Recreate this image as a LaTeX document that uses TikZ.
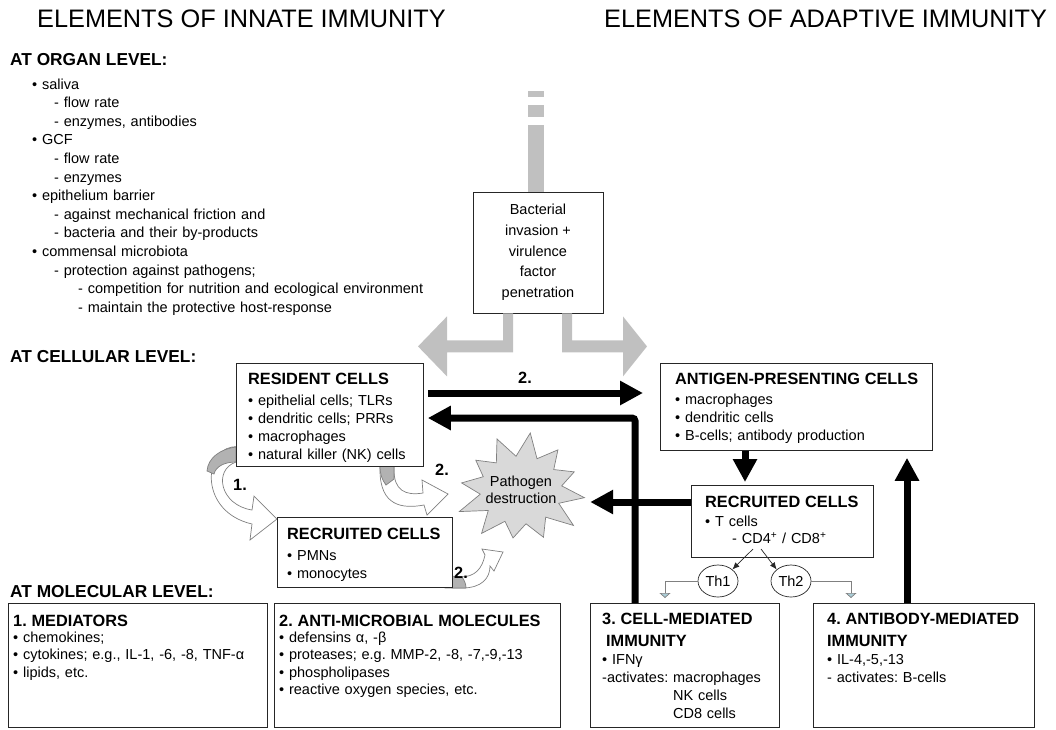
\documentclass[tikz,border=0pt]{standalone}
\usepackage{fontspec}
\setmainfont{Liberation Sans}
\usepackage{tikz}
\usetikzlibrary{arrows.meta,shapes.geometric}

\definecolor{arrgrey}{RGB}{192,192,192}
\definecolor{rimgrey}{RGB}{128,128,128}
\definecolor{tipblue}{RGB}{170,205,215}

\newcommand{\bt}[1]{{\bfseries\fontsize{16.3}{18}\selectfont #1}}

\begin{document}
\frenchspacing
\begin{tikzpicture}[x=1pt,y=-1pt,
                    box/.style={draw=black!85,line width=0.8pt,fill=white,
                                anchor=north west,inner sep=0pt},
                    txt/.style={anchor=base west,inner sep=0pt,align=left,
                                text width=#1,font=\fontsize{14.5}{18}\selectfont},
                    level/.style={anchor=base west,inner sep=0pt,
                                  font=\bfseries\fontsize{17.3}{20}\selectfont},
                    head/.style={anchor=base west,inner sep=0pt,
                                 font=\fontsize{25.3}{28}\selectfont},
                    num/.style={inner sep=0pt,font=\bfseries\fontsize{16.3}{18}\selectfont},
                    fat/.style={line width=7pt,-{Triangle[length=23pt,width=23pt]}},
                    ribbon/.style={fill=white,draw=rimgrey,line width=0.7pt},
                    twist/.style={fill=black!30,draw=rimgrey,line width=0.7pt},
                    thnode/.style={ellipse,draw=black!85,line width=0.7pt,
                                   minimum width=40pt,minimum height=32pt,inner sep=0pt,
                                   font=\fontsize{14.5}{18}\selectfont},
                    tharrow/.style={draw=black!85,line width=0.7pt,
                                    -{Latex[length=7pt,width=6pt]}},
                    thline/.style={draw=rimgrey,line width=0.7pt,
                                   -{Triangle[length=5pt,width=11pt,fill=tipblue]}}]

\useasboundingbox (0,0) rectangle (1056,729);

\node[head] (inn) at (37,27) {ELEMENTS OF INNATE IMMUNITY};
\node[head] (ada) at (604,27) {ELEMENTS OF ADAPTIVE IMMUNITY};

\node[level] (org) at (10,65) {AT ORGAN LEVEL:};
\node[level] (cel) at (10,362) {AT CELLULAR LEVEL:};
\node[level] (mol) at (10,597) {AT MOLECULAR LEVEL:};

\node[txt=440pt,font=\fontsize{14.5}{18.6}\selectfont] (orglist) at (32,89)
     {• saliva\\
      \hspace*{22pt}- flow rate\\
      \hspace*{22pt}- enzymes, antibodies\\
      • GCF\\
      \hspace*{22pt}- flow rate\\
      \hspace*{22pt}- enzymes\\
      • epithelium barrier\\
      \hspace*{22pt}- against mechanical friction and\\
      \hspace*{22pt}- bacteria and their by-products\\
      • commensal microbiota\\
      \hspace*{22pt}- protection against pathogens;\\
      \hspace*{46pt}- competition for nutrition and ecological environment\\
      \hspace*{46pt}- maintain the protective host-response};

% invading bacteria and the two grey routes
\foreach \ya/\yb in {125/192,105/117,91/97}
  \fill[arrgrey] (528,\ya) rectangle (544,\yb);

\node[draw=black!85,line width=0.8pt,minimum width=130pt,minimum height=121pt,
      inner sep=0pt,align=center,font=\fontsize{14.5}{20.7}\selectfont]
      (bac) at (538,252.5) {Bacterial\\invasion +\\virulence\\factor\\penetration};

\fill[arrgrey] ([xshift=-25pt]bac.south) -- ++(0,39) -- ++(-66,0) -- ++(0,24)
     -- ++(-29,-30) -- ++(29,-30) -- ++(0,24) -- ++(56,0) -- ++(0,-27) -- cycle;
\fill[arrgrey] ([xshift=24pt]bac.south) -- ++(0,39) -- ++(61,0) -- ++(0,24)
     -- ++(24,-30) -- ++(-24,-30) -- ++(0,24) -- ++(-51,0) -- ++(0,-27) -- cycle;

% pathogen destruction
\draw[fill=black!15,draw=rimgrey,line width=0.7pt,shift={(521,490)}]
     plot[samples at={8,23,...,353},variable=\a]
     ({(mod(\a-8,30)==0 ? 62+5*sin(3*\a) : 41)*cos(\a)},
      {(mod(\a-8,30)==0 ? 53+5*sin(3*\a) : 34)*sin(\a)}) -- cycle;
\node[inner sep=0pt,align=center,font=\fontsize{14.5}{17}\selectfont,
      minimum width=138pt,minimum height=106pt] (pd) at (521,490) {Pathogen\\destruction};

% curved arrows of the innate side
\draw[ribbon] (245,446) -- (232,447) .. controls (203,452) and (200,512) .. (252,524)
     -- (250,540) -- (277,519) -- (254,496) -- (252,510)
     .. controls (220,505) and (213,470) .. (236,462) -- (245,462) -- cycle;
\draw[twist] (236,447) .. controls (220,449) and (208,458) .. (207,471)
     -- (214,474) .. controls (216,466) and (225,462) .. (236,462) -- cycle;

\draw[ribbon] (380,460) -- (380,470) .. controls (380,506) and (402,509) .. (424,505)
     -- (427,515) -- (448,494) -- (422,480) -- (423,493)
     .. controls (405,496) and (394,490) .. (394,470) -- (394,460) -- cycle;
\draw[twist] (380,466) .. controls (380,474) and (382,480) .. (386,485)
     -- (394,479) -- (394,466) -- cycle;

\draw[ribbon] (445,588) -- (462,588) .. controls (482,588) and (490,578) .. (490,566)
     -- (494,571) -- (503,552) -- (482,549) -- (485,555)
     .. controls (482,569) and (475,577) .. (460,577) -- (445,577) -- cycle;
\draw[twist] (452,576) -- (462,577) .. controls (465,581) and (466,585) .. (466,588)
     -- (452,588) -- cycle;

% boxes
\node[box,minimum width=187pt,minimum height=103pt] (res) at (236,363) {};
\node[txt=180pt] at (248,384)
     {\bt{RESIDENT CELLS}\\[3.3pt]
      • epithelial cells; TLRs\\
      • dendritic cells; PRRs\\
      • macrophages\\
      • natural killer (NK) cells};

\node[box,minimum width=175pt,minimum height=70pt] (rci) at (277,517) {};
\node[txt=165pt] at (287,539)
     {\bt{RECRUITED CELLS}\\[3pt]
      • PMNs\\
      • monocytes};

\node[box,minimum width=272pt,minimum height=87pt] (apc) at (660,363) {};
\node[txt=260pt] at (675,384)
     {\bt{ANTIGEN-PRESENTING CELLS}\\[2pt]
      • macrophages\\
      • dendritic cells\\
      • B-cells; antibody production};

\node[box,minimum width=182pt,minimum height=72pt] (rct) at (691,485) {};
\node[txt=170pt,font=\fontsize{14.5}{17.5}\selectfont] at (705,507)
     {\bt{RECRUITED CELLS}\\[1.5pt]
      • T cells\\
      \hspace*{27pt}- CD4\textsuperscript{+} / CD8\textsuperscript{+}};

\node[box,minimum width=259pt,minimum height=124pt] (med) at (8,603) {};
\node[txt=250pt,font=\fontsize{14.5}{17.5}\selectfont] at (13,626)
     {\bt{1. MEDIATORS}\\[-1.5pt]
      • chemokines;\\
      • cytokines; e.g., IL-1, -6, -8, TNF-α\\
      • lipids, etc.};

\node[box,minimum width=286pt,minimum height=124pt] (amm) at (274,603) {};
\node[txt=280pt,font=\fontsize{14.5}{17.5}\selectfont] at (279,626)
     {\bt{2. ANTI-MICROBIAL MOLECULES}\\[-1.5pt]
      • defensins α, -β\\
      • proteases; e.g. MMP-2, -8, -7,-9,-13\\
      • phospholipases\\
      • reactive oxygen species, etc.};

\node[box,minimum width=189pt,minimum height=124pt] (cmi) at (590,603) {};
\node[txt=185pt] at (602,624)
     {\bt{3. CELL-MEDIATED}\\[4pt]
      \bt{\hspace*{4pt}IMMUNITY}\\
      • IFNγ\\
      -activates: macrophages\\
      \phantom{-activates: }NK cells\\
      \phantom{-activates: }CD8 cells};

\node[box,minimum width=221pt,minimum height=124pt] (ami) at (813,603) {};
\node[txt=215pt] at (827,624)
     {\bt{4. ANTIBODY-MEDIATED}\\[4pt]
      \bt{IMMUNITY}\\
      • IL-4,-5,-13\\
      - activates: B-cells};

% black routes
\draw[fat,shorten <=4pt,shorten >=17pt] (res.east |- 0,393) -- (apc.west |- 0,393);
\node[num] (two) at (525,378) {2.};
\draw[fat,shorten >=4pt,rounded corners=3pt] (cmi.north -| 635,0) |- (res.east |- 0,418);
\draw[fat,shorten >=3pt] (apc.south -| 745,0) -- (rct.north -| 745,0);
\draw[fat] (rct.west |- 0,502) -- (pd.east |- 0,502);
\draw[fat,shorten >=7pt] (ami.north -| 907,0) -- (apc.south -| 907,0);

\node[num] (one) at (240,485) {1.};
\node[num] (twoa) at (442,470) {2.};
\node[num] (twob) at (461,573) {2.};

% T helper branches
\node[thnode] (th1) at (718,581) {Th1};
\node[thnode] (th2) at (791,581) {Th2};
\coordinate (cd4) at (757,549);
\coordinate (t1) at (665,598);
\coordinate (t2) at (851,598);
\draw[tharrow] ([xshift=-4pt]cd4) -- (th1.north east);
\draw[tharrow] ([xshift=4pt]cd4) -- (th2.north west);
\draw[thline] (th1.west) -| (t1);
\draw[thline] (th2.east) -| (t2);

\end{tikzpicture}
\end{document}
